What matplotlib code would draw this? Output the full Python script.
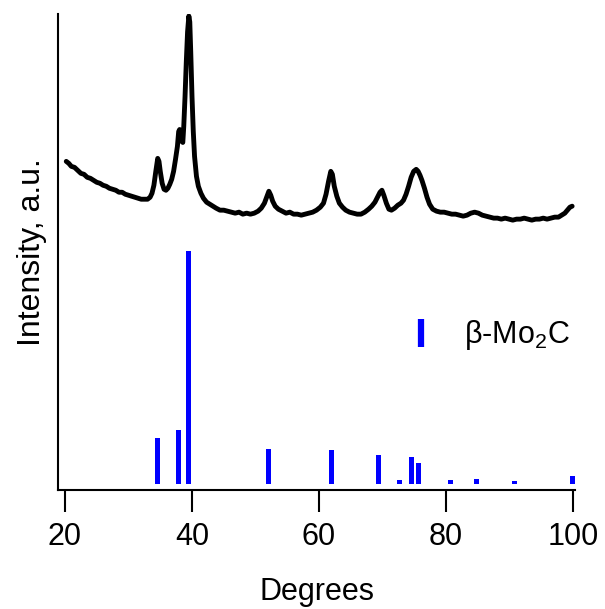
import matplotlib
matplotlib.use("Agg")
import matplotlib.pyplot as plt
from matplotlib.lines import Line2D

plt.rcParams["font.family"] = ["Liberation Sans", "DejaVu Sans"]
plt.rcParams["mathtext.default"] = "regular"

two_theta = [
    20.2, 20.6, 21.0, 21.5, 22.0, 22.5, 23.0, 23.5, 24.0, 24.5,
    25.0, 25.5, 26.0, 26.5, 27.0, 27.5, 28.0, 28.5, 29.0, 29.5,
    30.0, 30.5, 31.0, 31.5, 32.0, 32.5, 33.0, 33.4, 33.7, 34.0,
    34.3, 34.6, 34.8, 35.0, 35.3, 35.6, 35.9, 36.2, 36.5, 36.8,
    37.1, 37.4, 37.7, 37.9, 38.05, 38.2, 38.4, 38.55, 38.7, 38.9,
    39.1, 39.3, 39.5, 39.65, 39.8, 40.0, 40.2, 40.4, 40.7, 41.0,
    41.4, 41.8, 42.3, 42.8, 43.3, 43.8, 44.4, 45.0, 45.6, 46.2,
    46.8, 47.4, 48.0, 48.6, 49.2, 49.8, 50.4, 50.9, 51.4, 51.8,
    52.1, 52.4, 52.7, 53.1, 53.6, 54.2, 54.8, 55.4, 56.0, 56.6,
    57.2, 57.8, 58.4, 59.0, 59.6, 60.2, 60.7, 61.1, 61.5, 61.85,
    62.1, 62.4, 62.8, 63.2, 63.7, 64.2, 64.8, 65.4, 66.0, 66.6,
    67.2, 67.8, 68.3, 68.8, 69.2, 69.6, 69.9, 70.2, 70.6, 71.0,
    71.4, 71.9, 72.4, 72.9, 73.3, 73.7, 74.1, 74.5, 74.9, 75.3,
    75.6, 75.9, 76.2, 76.6, 77.0, 77.4, 77.9, 78.5, 79.1, 79.7,
    80.3, 80.9, 81.5, 82.1, 82.7, 83.3, 83.9, 84.5, 85.1, 85.7,
    86.3, 86.9, 87.5, 88.1, 88.7, 89.3, 89.9, 90.5, 91.1, 91.7,
    92.3, 92.9, 93.5, 94.1, 94.7, 95.3, 95.9, 96.5, 97.1, 97.7,
    98.2, 98.7, 99.1, 99.5, 99.85,
]
intensity = [
    330, 328, 325, 324, 321, 318, 317, 314, 313, 311,
    309, 308, 306, 305, 303, 302, 301, 299, 299, 297,
    296, 295, 294, 293, 292, 292, 292, 294, 298, 306,
    320, 333, 330, 320, 308, 302, 301, 303, 307, 312,
    320, 332, 345, 360, 362, 355, 350, 349, 365, 395,
    430, 460, 476, 470, 440, 395, 360, 335, 315, 305,
    298, 293, 289, 287, 285, 283, 281, 281, 280, 279,
    278, 279, 277, 278, 277, 278, 280, 283, 288, 295,
    300, 296, 290, 285, 282, 280, 278, 279, 277, 277,
    276, 277, 278, 279, 281, 284, 288, 297, 310, 320,
    317, 305, 295, 288, 284, 281, 279, 278, 277, 277,
    279, 282, 285, 289, 294, 299, 301, 296, 288, 282,
    281, 283, 286, 288, 291, 297, 305, 314, 320, 322,
    320, 316, 311, 303, 294, 287, 282, 280, 279, 279,
    278, 277, 277, 276, 275, 276, 278, 279, 278, 276,
    275, 274, 273, 273, 272, 273, 272, 271, 272, 272,
    273, 272, 271, 272, 272, 273, 272, 273, 274, 274,
    276, 278, 281, 284, 285,
]

# beta-Mo2C reference lines
ref_pos = [34.5, 37.8, 39.4, 52.1, 62.0, 69.3, 72.6, 74.5, 75.6, 80.7, 84.8, 90.8, 99.9]
ref_height = [46, 54, 234, 35, 34, 29, 4, 27, 21, 4, 5, 3, 8]
ref_base = 6

fig = plt.figure(figsize=(6.05, 6.09), dpi=100)
ax = fig.add_axes([58 / 605, 1 - 490 / 609, 517 / 605, 476 / 609])

ax.plot(two_theta, intensity, color="black", lw=3.5,
        solid_joinstyle="round", solid_capstyle="round")
ax.bar(ref_pos, ref_height, bottom=ref_base, width=0.8, color="#0000ff")

handle = Line2D([], [], color="#0000ff", marker="|", ms=20, mew=4.5, ls="none")
ax.legend([handle], ["β-Mo$_2$C"], loc="center left", bbox_to_anchor=(0.62, 0.325),
          frameon=False, fontsize=22, handlelength=1.0, handletextpad=0.9)

ax.set_xlim(18.9, 100.3)
ax.set_ylim(0, 478)
ax.set_xticks([20, 40, 60, 80, 100])
ax.set_yticks([])
ax.tick_params(axis="x", length=16, width=1.5, pad=7, labelsize=22)
for side in ["top", "right"]:
    ax.spines[side].set_visible(False)
for side in ["left", "bottom"]:
    ax.spines[side].set_linewidth(1.5)

ax.set_xlabel("Degrees", fontsize=22, labelpad=18)
ax.set_ylabel("Intensity, a.u.", fontsize=23, labelpad=8)

fig.savefig("out.png", dpi=100)
